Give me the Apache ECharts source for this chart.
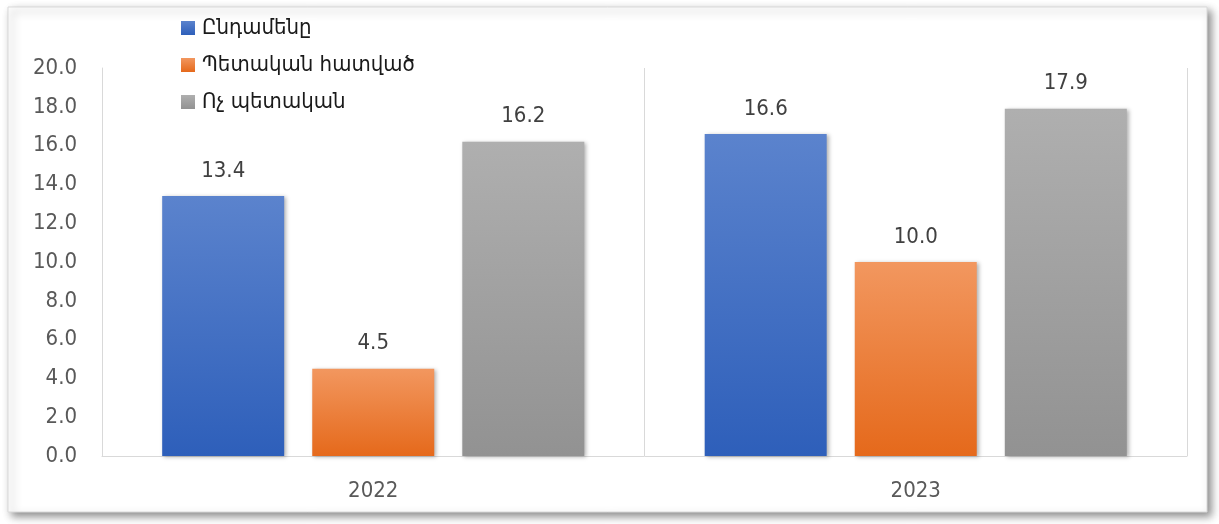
<!DOCTYPE html>
<html>
<head>
<meta charset="utf-8">
<script src="https://cdn.jsdelivr.net/npm/echarts@6/dist/echarts.min.js"></script>
<style>
html,body{margin:0;padding:0;background:#fff;}
#c{width:1219px;height:524px;}
</style>
</head>
<body>
<div id="c"></div>
<script>
var categories = ['2022', '2023'];
var seriesNames = ['Ընդամենը', 'Պետական հատված', 'Ոչ պետական'];
var totalValues = [13.4, 16.6];
var stateValues = [4.5, 10.0];
var nonStateValues = [16.2, 17.9];
var yTicks = { min: 0, max: 20, interval: 2 };

var FONT = "'DejaVu Sans Condensed', 'DejaVu Sans', sans-serif";

function grad(top, bottom) {
  return new echarts.graphic.LinearGradient(0, 0, 0, 1, [
    { offset: 0, color: top },
    { offset: 1, color: bottom }
  ]);
}

function makeSeries(name, data, top, bottom) {
  return {
    name: name,
    type: 'bar',
    data: data,
    barWidth: 122,
    barGap: '23%',
    itemStyle: {
      color: grad(top, bottom),
      shadowBlur: 4,
      shadowOffsetX: 2,
      shadowOffsetY: 1,
      shadowColor: 'rgba(0,0,0,0.3)'
    },
    label: {
      show: true,
      position: 'top',
      distance: 14,
      fontFamily: FONT,
      fontSize: 22,
      color: '#404040',
      formatter: function (p) { return p.value.toFixed(1); }
    }
  };
}

var chart = echarts.init(document.getElementById('c'));
chart.setOption({
  animation: false,
  backgroundColor: '#ffffff',
  graphic: {
    elements: [{
      type: 'rect',
      z: -10,
      silent: true,
      shape: { x: 8, y: 7, width: 1199, height: 505 },
      style: {
        fill: '#ffffff',
        stroke: '#d9d9d9',
        lineWidth: 1,
        shadowBlur: 8,
        shadowOffsetX: 4,
        shadowOffsetY: 4,
        shadowColor: 'rgba(0,0,0,0.45)'
      }
    }]
  },
  legend: {
    orient: 'vertical',
    left: 181,
    top: 17,
    padding: 0,
    itemWidth: 14,
    itemHeight: 14,
    itemGap: 15,
    icon: 'rect',
    textStyle: { fontFamily: FONT, fontSize: 22, color: '#1a1a1a', padding: [0, 0, 0, 2] },
    data: seriesNames
  },
  grid: { left: 102, right: 32, top: 68, bottom: 68, containLabel: false },
  xAxis: {
    type: 'category',
    data: categories,
    axisLine: { show: true, lineStyle: { color: '#d9d9d9', width: 1 } },
    axisTick: { show: false },
    splitLine: { show: true, lineStyle: { color: '#d9d9d9', width: 1 } },
    axisLabel: { fontFamily: FONT, fontSize: 22, color: '#595959', margin: 24 }
  },
  yAxis: {
    type: 'value',
    min: yTicks.min,
    max: yTicks.max,
    interval: yTicks.interval,
    axisLine: { show: true, lineStyle: { color: '#d9d9d9', width: 1 } },
    axisTick: { show: false },
    splitLine: { show: false },
    axisLabel: {
      fontFamily: FONT, fontSize: 22, color: '#595959', margin: 25,
      formatter: function (v) { return v.toFixed(1); }
    }
  },
  series: [
    makeSeries(seriesNames[0], totalValues, '#5b83cd', '#2e5fba'),
    makeSeries(seriesNames[1], stateValues, '#f2975f', '#e5691b'),
    makeSeries(seriesNames[2], nonStateValues, '#afafaf', '#929292')
  ]
});
</script>
</body>
</html>
